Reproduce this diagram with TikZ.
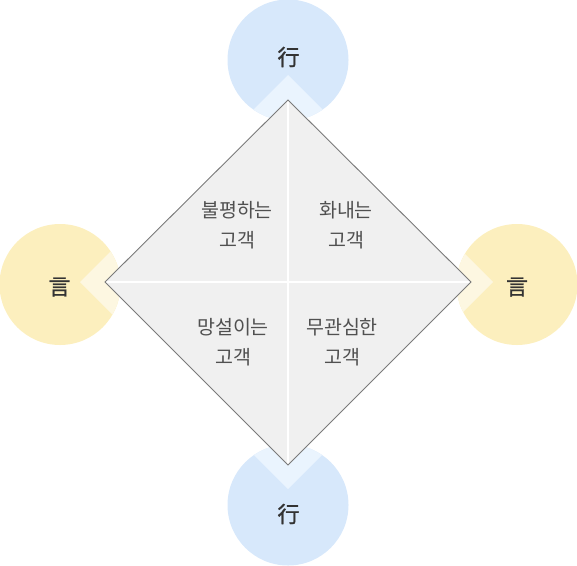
\documentclass[tikz,border=0pt]{standalone}
\usepackage{fontspec}
\setmainfont{Noto Sans CJK KR}
\newfontfamily\hanjafont{Noto Sans CJK KR}[BoldFont={Noto Sans CJK KR},BoldFeatures={FakeBold=1.2}]
\begin{document}
\begin{tikzpicture}[x=1pt,y=-1pt,
  bluecirc/.style={circle,fill=blueA,draw=none,minimum size=121pt,inner sep=0pt},
  yelcirc/.style={circle,fill=yelA,draw=none,minimum size=121pt,inner sep=0pt},
  hanja/.style={text=txtdark,font=\hanjafont\fontsize{22}{26}\selectfont\bfseries},
  quad/.style={text=txtgray,font=\fontsize{19.5}{30}\selectfont,align=center}]
\definecolor{blueA}{HTML}{D7E8FB}
\definecolor{blueB}{HTML}{EAF4FE}
\definecolor{yelA}{HTML}{FCEFBE}
\definecolor{yelB}{HTML}{FDF7E1}
\definecolor{dia}{HTML}{F0F0F0}
\definecolor{diaedge}{HTML}{7A7A7A}
\definecolor{txtdark}{HTML}{333333}
\definecolor{txtgray}{HTML}{505050}
\useasboundingbox (0,0) rectangle (577,565);
% circles
\node[bluecirc] (ctop) at (288,60) {};
\node[bluecirc] (cbot) at (288,505) {};
\node[yelcirc] (cleft) at (60,284.5) {};
\node[yelcirc] (cright) at (517,284.5) {};
% light wedges
\begin{scope}
\clip (288,60) circle (60.5);
\fill[blueB] (288,75) -- (138,225) -- (438,225) -- cycle;
\end{scope}
\begin{scope}
\clip (288,505) circle (60.5);
\fill[blueB] (288,489) -- (138,339) -- (438,339) -- cycle;
\end{scope}
\begin{scope}
\clip (60,284.5) circle (60.5);
\fill[yelB] (80,282) -- (230,132) -- (230,432) -- cycle;
\end{scope}
\begin{scope}
\clip (517,284.5) circle (60.5);
\fill[yelB] (493,282) -- (343,132) -- (343,432) -- cycle;
\end{scope}
% diamond
\coordinate (dt) at (288,100);
\coordinate (db) at (288,465);
\coordinate (dl) at (105,282);
\coordinate (dr) at (471,282);
\fill[dia] (dt) -- (dr) -- (db) -- (dl) -- cycle;
\draw[white,line width=1.5pt] (dt) -- (db);
\draw[white,line width=1.5pt] (dl) -- (dr);
\draw[diaedge,line width=0.9pt,line join=miter] (dt) -- (dr) -- (db) -- (dl) -- cycle;
% labels
\node[hanja] (ltop) at (288.5,57) {行};
\node[hanja] (lbot) at (288.5,514) {行};
\node[hanja] (lleft) at (59.5,287) {言};
\node[hanja] (lright) at (517,287) {言};
\node[quad] (q1) at (237,225) {불평하는\\고객};
\node[quad] (q2) at (346,225) {화내는\\고객};
\node[quad] (q3) at (233,342) {망설이는\\고객};
\node[quad] (q4) at (342,342) {무관심한\\고객};
\end{tikzpicture}
\end{document}
